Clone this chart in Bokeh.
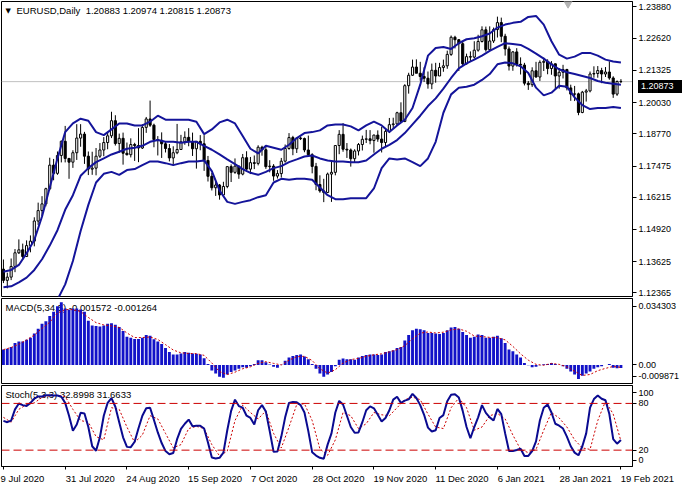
from bokeh.plotting import figure
from bokeh.models import (Range1d, FixedTicker, Span, Label, NumeralTickFormatter,
                          ColumnDataSource, AllLabels, Div)
from bokeh.layouts import column
from bokeh.embed import file_html
from bokeh.resources import INLINE

# ---------------- data ----------------
symbol_title = "EURUSD,Daily\u00a0 1.20883 1.20974 1.20815 1.20873"
macd_title = "MACD(5,34,5) -0.001572 -0.001264"
stoch_title = "Stoch(5,3,3) 32.8998 31.6633"

date_tick_bars = [0, 16, 32, 48, 64, 80, 96, 112, 128, 144, 160]
date_tick_labels = ["9 Jul 2020", "31 Jul 2020", "24 Aug 2020", "15 Sep 2020", "7 Oct 2020",
                    "28 Oct 2020", "19 Nov 2020", "11 Dec 2020", "6 Jan 2021", "28 Jan 2021",
                    "19 Feb 2021"]

opens = [1.1332, 1.1287, 1.1300, 1.1343, 1.1398, 1.1410, 1.1383, 1.1427, 1.1445, 1.1526,
         1.1568, 1.1595, 1.1656, 1.1751, 1.1718, 1.1790, 1.1847, 1.1778, 1.1763, 1.1801,
         1.1860, 1.1876, 1.1787, 1.1735, 1.1739, 1.1787, 1.1812, 1.1842, 1.1869, 1.1930,
         1.1838, 1.1859, 1.1799, 1.1793, 1.1834, 1.1830, 1.1820, 1.1903, 1.1937, 1.1912,
         1.1854, 1.1851, 1.1837, 1.1818, 1.1780, 1.1801, 1.1814, 1.1845, 1.1863, 1.1846,
         1.1817, 1.1847, 1.1837, 1.1770, 1.1706, 1.1660, 1.1671, 1.1631, 1.1665, 1.1745,
         1.1722, 1.1747, 1.1715, 1.1781, 1.1735, 1.1761, 1.1758, 1.1823, 1.1813, 1.1745,
         1.1747, 1.1707, 1.1717, 1.1767, 1.1818, 1.1862, 1.1817, 1.1860, 1.1858, 1.1812,
         1.1793, 1.1746, 1.1673, 1.1647, 1.1641, 1.1715, 1.1722, 1.1830, 1.1875, 1.1815,
         1.1812, 1.1777, 1.1808, 1.1834, 1.1855, 1.1857, 1.1850, 1.1872, 1.1856, 1.1842,
         1.1887, 1.1914, 1.1917, 1.1962, 1.1927, 1.2071, 1.2113, 1.2146, 1.2121, 1.2108,
         1.2101, 1.2078, 1.2133, 1.2110, 1.2144, 1.2151, 1.2197, 1.2266, 1.2256, 1.2240,
         1.2159, 1.2188, 1.2186, 1.2214, 1.2249, 1.2296, 1.2216, 1.2251, 1.2297, 1.2325,
         1.2270, 1.2219, 1.2150, 1.2207, 1.2157, 1.2154, 1.2081, 1.2075, 1.2131, 1.2106,
         1.2165, 1.2169, 1.2140, 1.2159, 1.2110, 1.2125, 1.2136, 1.2062, 1.2037, 1.2038,
         1.1963, 1.2045, 1.2050, 1.2118, 1.2120, 1.2132, 1.2118, 1.2126, 1.2102, 1.2037,
         1.20883]
highs = [1.1371, 1.1318, 1.1375, 1.1413, 1.1452, 1.1435, 1.1448, 1.1468, 1.1541, 1.1600,
         1.1626, 1.1660, 1.1781, 1.1776, 1.1806, 1.1850, 1.1909, 1.1780, 1.1811, 1.1916,
         1.1916, 1.1885, 1.1806, 1.1805, 1.1820, 1.1840, 1.1864, 1.1882, 1.1966, 1.1952,
         1.1878, 1.1882, 1.1842, 1.1859, 1.1841, 1.1900, 1.1916, 1.1945, 1.2011, 1.1918,
         1.1868, 1.1883, 1.1848, 1.1836, 1.1827, 1.1917, 1.1873, 1.1887, 1.1900, 1.1882,
         1.1828, 1.1872, 1.1872, 1.1788, 1.1720, 1.1687, 1.1675, 1.1684, 1.1746, 1.1754,
         1.1778, 1.1749, 1.1796, 1.1807, 1.1784, 1.1790, 1.1831, 1.1829, 1.1827, 1.1771,
         1.1755, 1.1731, 1.1780, 1.1834, 1.1880, 1.1869, 1.1860, 1.1866, 1.1862, 1.1870,
         1.1799, 1.1760, 1.1710, 1.1696, 1.1721, 1.1770, 1.1830, 1.1892, 1.1920, 1.1840,
         1.1818, 1.1815, 1.1840, 1.1870, 1.1893, 1.1892, 1.1874, 1.1891, 1.1905, 1.1897,
         1.1941, 1.1942, 1.1966, 1.2004, 1.2077, 1.2123, 1.2176, 1.2177, 1.2167, 1.2145,
         1.2128, 1.2160, 1.2163, 1.2163, 1.2176, 1.2212, 1.2273, 1.2272, 1.2259, 1.2250,
         1.2200, 1.2209, 1.2250, 1.2276, 1.2310, 1.2309, 1.2310, 1.2305, 1.2349, 1.2345,
         1.2280, 1.2229, 1.2210, 1.2222, 1.2185, 1.2163, 1.2090, 1.2145, 1.2167, 1.2173,
         1.2184, 1.2177, 1.2170, 1.2160, 1.2142, 1.2155, 1.2139, 1.2075, 1.2070, 1.2043,
         1.2050, 1.2058, 1.2128, 1.2149, 1.2150, 1.2143, 1.2146, 1.2169, 1.2109, 1.2092,
         1.20974]
lows = [1.1276, 1.1255, 1.1288, 1.1320, 1.1393, 1.1370, 1.1381, 1.1400, 1.1424, 1.1510,
        1.1544, 1.1585, 1.1650, 1.1690, 1.1712, 1.1762, 1.1762, 1.1696, 1.1740, 1.1772,
        1.1825, 1.1756, 1.1711, 1.1712, 1.1710, 1.1780, 1.1787, 1.1815, 1.1860, 1.1830,
        1.1801, 1.1753, 1.1790, 1.1782, 1.1768, 1.1763, 1.1816, 1.1881, 1.1905, 1.1823,
        1.1790, 1.1780, 1.1802, 1.1766, 1.1753, 1.1795, 1.1812, 1.1833, 1.1827, 1.1788,
        1.1737, 1.1811, 1.1728, 1.1685, 1.1649, 1.1627, 1.1612, 1.1626, 1.1658, 1.1683,
        1.1716, 1.1696, 1.1710, 1.1732, 1.1715, 1.1735, 1.1750, 1.1789, 1.1736, 1.1722,
        1.1688, 1.1697, 1.1701, 1.1761, 1.1813, 1.1791, 1.1800, 1.1852, 1.1803, 1.1790,
        1.1718, 1.1650, 1.1640, 1.1602, 1.1640, 1.1603, 1.1710, 1.1795, 1.1805, 1.1780,
        1.1745, 1.1760, 1.1790, 1.1810, 1.1840, 1.1835, 1.1801, 1.1845, 1.1802, 1.1825,
        1.1880, 1.1900, 1.1910, 1.1924, 1.1924, 1.2039, 1.2110, 1.2129, 1.2091, 1.2086,
        1.2059, 1.2057, 1.2083, 1.2110, 1.2127, 1.2139, 1.2191, 1.2221, 1.2130, 1.2153,
        1.2156, 1.2170, 1.2180, 1.2208, 1.2245, 1.2208, 1.2211, 1.2243, 1.2265, 1.2246,
        1.2192, 1.2132, 1.2131, 1.2148, 1.2116, 1.2072, 1.2054, 1.2066, 1.2103, 1.2090,
        1.2130, 1.2117, 1.2115, 1.2057, 1.2059, 1.2100, 1.2052, 1.2010, 1.2009, 1.1952,
        1.1960, 1.2007, 1.2044, 1.2103, 1.2103, 1.2081, 1.2106, 1.2095, 1.2022, 1.2030,
        1.20815]
closes = [1.1287, 1.1300, 1.1343, 1.1398, 1.1410, 1.1383, 1.1427, 1.1445, 1.1526, 1.1568,
          1.1595, 1.1656, 1.1751, 1.1718, 1.1790, 1.1847, 1.1778, 1.1763, 1.1801, 1.1860,
          1.1876, 1.1787, 1.1735, 1.1739, 1.1787, 1.1812, 1.1842, 1.1869, 1.1930, 1.1838,
          1.1859, 1.1799, 1.1793, 1.1834, 1.1830, 1.1820, 1.1903, 1.1937, 1.1912, 1.1854,
          1.1851, 1.1837, 1.1818, 1.1780, 1.1801, 1.1814, 1.1845, 1.1863, 1.1846, 1.1817,
          1.1847, 1.1837, 1.1770, 1.1706, 1.1660, 1.1671, 1.1631, 1.1665, 1.1745, 1.1722,
          1.1747, 1.1715, 1.1781, 1.1735, 1.1761, 1.1758, 1.1823, 1.1813, 1.1745, 1.1747,
          1.1707, 1.1717, 1.1767, 1.1818, 1.1862, 1.1817, 1.1860, 1.1858, 1.1812, 1.1793,
          1.1746, 1.1673, 1.1647, 1.1641, 1.1715, 1.1722, 1.1830, 1.1875, 1.1815, 1.1812,
          1.1777, 1.1808, 1.1834, 1.1855, 1.1857, 1.1850, 1.1872, 1.1856, 1.1842, 1.1887,
          1.1914, 1.1917, 1.1962, 1.1927, 1.2071, 1.2113, 1.2146, 1.2121, 1.2108, 1.2101,
          1.2078, 1.2133, 1.2110, 1.2144, 1.2151, 1.2197, 1.2266, 1.2256, 1.2240, 1.2159,
          1.2188, 1.2186, 1.2214, 1.2249, 1.2296, 1.2216, 1.2251, 1.2297, 1.2325, 1.2270,
          1.2219, 1.2150, 1.2207, 1.2157, 1.2154, 1.2081, 1.2075, 1.2131, 1.2106, 1.2165,
          1.2169, 1.2140, 1.2159, 1.2110, 1.2125, 1.2136, 1.2062, 1.2037, 1.2038, 1.1963,
          1.2045, 1.2050, 1.2118, 1.2120, 1.2132, 1.2118, 1.2126, 1.2102, 1.2037, 1.2088,
          1.20873]

# Bollinger bands, read every second bar
band_bars = list(range(0, 161, 2))
bb_upper = [1.1322, 1.1329, 1.1349, 1.1396, 1.1450, 1.1544, 1.1661, 1.1778, 1.1884, 1.1919,
            1.1938, 1.1930, 1.1884, 1.1872, 1.1895, 1.1919, 1.1919, 1.1911, 1.1911, 1.1926,
            1.1950, 1.1934, 1.1934, 1.1934, 1.1934, 1.1926, 1.1876, 1.1895, 1.1923, 1.1934,
            1.1919, 1.1868, 1.1817, 1.1798, 1.1829, 1.1821, 1.1813, 1.1833, 1.1860, 1.1880,
            1.1884, 1.1891, 1.1911, 1.1915, 1.1915, 1.1907, 1.1891, 1.1911, 1.1926, 1.1911,
            1.1884, 1.1911, 1.1934, 1.1981, 1.2075, 1.2192, 1.2223, 1.2227, 1.2219, 1.2242,
            1.2258, 1.2262, 1.2270, 1.2281, 1.2305, 1.2317, 1.2324, 1.2328, 1.2348, 1.2352,
            1.2317, 1.2250, 1.2196, 1.2180, 1.2188, 1.2203, 1.2203, 1.2192, 1.2176, 1.2168,
            1.2164]
bb_middle = [1.1259, 1.1263, 1.1279, 1.1298, 1.1329, 1.1372, 1.1427, 1.1489, 1.1571, 1.1630,
             1.1708, 1.1739, 1.1763, 1.1778, 1.1794, 1.1805, 1.1817, 1.1821, 1.1829, 1.1845,
             1.1852, 1.1845, 1.1845, 1.1841, 1.1845, 1.1845, 1.1829, 1.1813, 1.1794, 1.1774,
             1.1755, 1.1735, 1.1720, 1.1712, 1.1724, 1.1739, 1.1747, 1.1763, 1.1774, 1.1786,
             1.1790, 1.1778, 1.1770, 1.1766, 1.1766, 1.1763, 1.1763, 1.1770, 1.1794, 1.1817,
             1.1833, 1.1852, 1.1880, 1.1915, 1.1950, 1.1989, 1.2020, 1.2059, 1.2102, 1.2141,
             1.2161, 1.2176, 1.2192, 1.2211, 1.2227, 1.2242, 1.2239, 1.2235, 1.2219, 1.2200,
             1.2180, 1.2157, 1.2137, 1.2125, 1.2118, 1.2110, 1.2102, 1.2090, 1.2083, 1.2079,
             1.2075]
bb_lower = [1.1216, 1.1205, 1.1197, 1.1189, 1.1181, 1.1177, 1.1185, 1.1209, 1.1271, 1.1365,
            1.1486, 1.1591, 1.1681, 1.1716, 1.1724, 1.1712, 1.1731, 1.1735, 1.1751, 1.1766,
            1.1766, 1.1759, 1.1751, 1.1759, 1.1766, 1.1766, 1.1770, 1.1727, 1.1649, 1.1603,
            1.1595, 1.1603, 1.1610, 1.1622, 1.1630, 1.1681, 1.1696, 1.1692, 1.1696, 1.1696,
            1.1692, 1.1661, 1.1630, 1.1614, 1.1614, 1.1618, 1.1618, 1.1618, 1.1657, 1.1739,
            1.1778, 1.1774, 1.1778, 1.1763, 1.1747, 1.1778, 1.1845, 1.1962, 1.2036, 1.2063,
            1.2067, 1.2075, 1.2094, 1.2118, 1.2157, 1.2164, 1.2161, 1.2149, 1.2122, 1.2063,
            1.2032, 1.2043, 1.2071, 1.2067, 1.2024, 1.1993, 1.1977, 1.1981, 1.1981, 1.1985,
            1.1981]

macd_hist = [0.0080, 0.0084, 0.0094, 0.0114, 0.0122, 0.0122, 0.0131, 0.0142, 0.0164, 0.0189,
             0.0215, 0.0228, 0.0256, 0.0278, 0.0307, 0.0328, 0.0295, 0.0290, 0.0295, 0.0295,
             0.0290, 0.0278, 0.0231, 0.0206, 0.0203, 0.0201, 0.0206, 0.0215, 0.0218, 0.0210,
             0.0198, 0.0177, 0.0147, 0.0142, 0.0136, 0.0136, 0.0142, 0.0156, 0.0152, 0.0134,
             0.0122, 0.0109, 0.0089, 0.0067, 0.0055, 0.0055, 0.0060, 0.0067, 0.0064, 0.0060,
             0.0059, 0.0055, 0.0035, 0.0005, -0.0029, -0.0045, -0.0062, -0.0067, -0.0050, -0.0037,
             -0.0029, -0.0020, -0.0012, -0.0015, -0.0007, 0.0005, 0.0025, 0.0025, 0.0014, 0.0002,
             -0.0009, -0.0015, 0.0001, 0.0022, 0.0039, 0.0047, 0.0052, 0.0055, 0.0044, 0.0030,
             0.0005, -0.0020, -0.0045, -0.0062, -0.0050, -0.0037, -0.0007, 0.0027, 0.0034, 0.0030,
             0.0030, 0.0027, 0.0039, 0.0047, 0.0052, 0.0055, 0.0055, 0.0052, 0.0055, 0.0067,
             0.0072, 0.0077, 0.0089, 0.0094, 0.0127, 0.0156, 0.0181, 0.0189, 0.0186, 0.0181,
             0.0167, 0.0167, 0.0164, 0.0161, 0.0167, 0.0181, 0.0195, 0.0198, 0.0189, 0.0172,
             0.0156, 0.0142, 0.0147, 0.0159, 0.0156, 0.0142, 0.0142, 0.0147, 0.0152, 0.0139,
             0.0114, 0.0080, 0.0072, 0.0055, 0.0039, 0.0010, -0.0002, -0.0012, -0.0009, -0.0002,
             0.0004, 0.0005, 0.0010, 0.0005, -0.0001, -0.0007, -0.0020, -0.0034, -0.0050, -0.0074,
             -0.0057, -0.0045, -0.0034, -0.0020, -0.0012, -0.0007, -0.0001, 0.0005, -0.0015, -0.0017,
             -0.001572]
macd_signal = [0.0080, 0.0091, 0.0108, 0.0131, 0.0156, 0.0191, 0.0223, 0.0271, 0.0289, 0.0289,
               0.0279, 0.0248, 0.0221, 0.0209, 0.0204, 0.0196, 0.0167, 0.0143, 0.0143, 0.0146,
               0.0133, 0.0106, 0.0078, 0.0063, 0.0060, 0.0059, 0.0050, 0.0010, -0.0035, -0.0050,
               -0.0038, -0.0020, -0.0010, 0.0008, 0.0017, 0.0008, 0.0000, 0.0025, 0.0043, 0.0045,
               0.0023, -0.0020, -0.0043, -0.0025, 0.0010, 0.0028, 0.0034, 0.0045, 0.0053, 0.0058,
               0.0068, 0.0080, 0.0101, 0.0136, 0.0166, 0.0172, 0.0167, 0.0171, 0.0183, 0.0188,
               0.0176, 0.0151, 0.0148, 0.0144, 0.0142, 0.0131, 0.0097, 0.0058, 0.0025, 0.0003,
               -0.0002, 0.0008, 0.0003, -0.0010, -0.0033, -0.0055, -0.0050, -0.0030, -0.0018, -0.0008,
               -0.001264]

stoch_main = [57.6, 55.9, 58.0, 72.4, 79.9, 77.8, 76.6, 80.7, 86.0, 88.9,
              88.9, 90.6, 90.6, 90.2, 90.2, 88.5, 80.7, 64.2, 44.8, 53.0,
              67.9, 67.1, 49.7, 25.0, 19.2, 36.5, 64.2, 80.7, 86.9, 75.7,
              55.9, 36.5, 24.2, 23.8, 30.8, 48.1, 64.2, 73.7, 74.5, 58.8,
              42.7, 29.1, 18.8, 14.7, 16.3, 34.1, 47.3, 53.9, 59.2, 50.6,
              51.4, 51.4, 47.7, 29.9, 10.6, 9.3, 10.2, 16.8, 45.6, 70.4,
              84.8, 76.6, 74.5, 64.2, 61.3, 53.0, 71.2, 77.8, 69.5, 44.4,
              18.0, 18.4, 37.4, 62.1, 80.7, 81.9, 81.5, 77.8, 68.3, 44.4,
              17.2, 13.0, 10.2, 8.9, 27.1, 41.5, 68.3, 83.2, 78.6, 64.2,
              49.7, 42.3, 42.7, 55.9, 71.2, 76.2, 73.7, 65.4, 56.8, 61.3,
              71.2, 84.8, 88.5, 80.7, 83.6, 85.2, 92.2, 86.9, 77.8, 65.4,
              48.9, 44.0, 45.6, 61.3, 65.0, 82.8, 91.0, 91.8, 87.7, 70.4,
              49.7, 35.3, 49.7, 62.1, 77.8, 67.9, 62.1, 58.0, 72.9, 66.3,
              41.5, 18.8, 18.8, 20.1, 21.7, 12.6, 12.6, 18.8, 31.2, 58.0,
              74.5, 78.6, 68.3, 53.9, 51.4, 47.7, 37.4, 25.0, 16.8, 13.4,
              25.0, 41.5, 74.5, 85.6, 90.2, 86.0, 84.0, 66.3, 34.1, 28.3,
              32.8998]
stoch_signal = [62.1, 55.9, 72.4, 78.6, 80.7, 87.7, 89.8, 90.2, 88.9, 72.4,
                58.0, 55.9, 37.4, 33.2, 74.5, 72.4, 49.7, 29.9, 39.4, 64.2,
                60.1, 41.5, 22.9, 27.1, 47.7, 50.6, 47.7, 27.1, 12.6, 18.8,
                58.0, 77.8, 68.3, 60.1, 70.4, 41.5, 22.9, 49.7, 78.6, 79.5,
                58.0, 21.7, 13.4, 33.2, 68.3, 64.2, 47.7, 53.9, 68.3, 65.4,
                64.2, 74.5, 84.8, 88.1, 84.8, 66.3, 49.7, 47.7, 74.5, 86.9,
                74.5, 45.6, 49.7, 64.2, 67.1, 60.1, 39.4, 20.9, 16.8, 20.9,
                45.6, 68.3, 61.3, 49.7, 33.2, 22.9, 20.9, 58.0, 82.8, 66.3,
                31.6633]
stoch_levels = [20, 80]

price_ticks = [1.23880, 1.22620, 1.21325, 1.20030, 1.18770, 1.17475, 1.16215, 1.14920, 1.13625, 1.12365]
last_price = 1.20873
macd_ticks = {0.03065: "0.034303", 0.0: "0.00", -0.00603: "-0.009871"}
stoch_ticks = {93.9: "100", 80: "80", 20: "20", 7.3: "0"}

# ---------------- styling / layout ----------------
FONT = "Liberation Sans"
FS = "9px"
FRAME_W = 631
RB = 52
X0, X1 = -0.5, 163.0
PY0, PY1 = 1.1222, 1.2410
MAIN_H = 295
BLUE = "#14149a"
HIST = "#1212c8"
RED = "#cc0000"

xr = Range1d(X0, X1)


def panel(fh, y0, y1, with_dates=False):
    p = figure(frame_width=FRAME_W, frame_height=fh, x_range=xr, y_range=Range1d(y0, y1),
               output_backend="svg", toolbar_location=None,
               x_axis_location="below" if with_dates else None, y_axis_location="right",
               min_border_left=1, min_border_right=RB, min_border_top=1,
               min_border_bottom=0 if with_dates else 1)
    p.grid.visible = False
    p.outline_line_color = "black"
    p.outline_line_width = 1
    p.background_fill_color = "white"
    p.border_fill_color = "white"
    for ax in p.axis:
        ax.axis_line_color = "black"
        ax.major_tick_in = 0
        ax.minor_tick_out = 0
        ax.minor_tick_in = 0
        ax.major_label_text_font = FONT
        ax.major_label_text_color = "black"
    ax = p.yaxis[0]
    ax.major_tick_out = 4
    ax.major_label_standoff = 2
    ax.major_label_text_font_size = FS
    return p


# advance widths (em) of the label font, used to left-align date labels at their ticks
CW = {" ": 0.278, "J": 0.5, "u": 0.556, "l": 0.222, "A": 0.667, "g": 0.556, "S": 0.667,
      "e": 0.556, "p": 0.556, "O": 0.778, "c": 0.5, "t": 0.278, "N": 0.722, "o": 0.556,
      "v": 0.5, "D": 0.722, "F": 0.611, "b": 0.556, "a": 0.556, "n": 0.556}


def left_aligned(s, first=False):
    if first:
        return s  # pushed inside the canvas by the axis itself
    w = sum(CW.get(ch, 0.556) for ch in s)
    return "\u00a0" * int(round(w / 0.278)) + s


# main price panel
pm = panel(MAIN_H, PY0, PY1)
pm.yaxis[0].ticker = FixedTicker(ticks=price_ticks)
pm.yaxis[0].formatter = NumeralTickFormatter(format="0.00000")
pm.add_layout(Span(location=last_price, dimension="width", line_color="#c0c0c0",
                   line_width=1, level="underlay"))

bars = list(range(len(closes)))
src = ColumnDataSource(dict(
    x=bars, h=highs, l=lows,
    top=[max(o, c) for o, c in zip(opens, closes)],
    bot=[min(o, c) for o, c in zip(opens, closes)],
    fill=["white" if c >= o else "black" for o, c in zip(opens, closes)],
))
pm.segment(x0="x", y0="l", x1="x", y1="h", source=src, line_color="black", line_width=1)
pm.vbar(x="x", width=0.55, top="top", bottom="bot", source=src,
        fill_color="fill", line_color="black", line_width=1)
for band in (bb_upper, bb_middle, bb_lower):
    pm.line(band_bars, band, line_color=BLUE, line_width=2)

pm.add_layout(Label(x=X0, y=PY1, x_offset=4, y_offset=-5, text="\u25bc",
                    text_font="DejaVu Sans", text_font_size="7px", text_baseline="top",
                    text_color="black"))
pm.add_layout(Label(x=X0, y=PY1, x_offset=15, y_offset=-3, text=symbol_title,
                    text_font=FONT, text_font_size="9.5px", text_baseline="top",
                    text_color="black"))
pm.scatter([146.3], [1.2404], marker="inverted_triangle", size=9,
           fill_color="#b4b4b4", line_color="#b4b4b4")

# MACD panel
pmacd = panel(85, -0.0097, 0.0347)
pmacd.yaxis[0].ticker = FixedTicker(ticks=list(macd_ticks.keys()))
pmacd.yaxis[0].major_label_overrides = macd_ticks
pmacd.add_layout(Label(x=X0, y=0.0347, x_offset=4, y_offset=-3, text=macd_title,
                       text_font=FONT, text_font_size="9.5px", text_baseline="top",
                       text_color="black", level="underlay"))
pmacd.vbar(x=bars, top=macd_hist, bottom=0, width=0.75, fill_color=HIST, line_color=None)
pmacd.line(band_bars, macd_signal, line_color=RED, line_width=1, line_dash="2 2")

# Stochastic panel with the date axis
pst = panel(81, -1, 103, with_dates=True)
pst.yaxis[0].ticker = FixedTicker(ticks=list(stoch_ticks.keys()))
pst.yaxis[0].major_label_overrides = stoch_ticks
xa = pst.xaxis[0]
xa.ticker = FixedTicker(ticks=date_tick_bars)
xa.major_label_overrides = {b: left_aligned(t, k == 0)
                            for k, (b, t) in enumerate(zip(date_tick_bars, date_tick_labels))}
xa.major_label_policy = AllLabels()
xa.major_tick_out = 3
xa.major_label_standoff = 3
xa.major_label_text_font_size = "9.5px"
pst.add_layout(Label(x=X0, y=103, x_offset=4, y_offset=-3, text=stoch_title,
                     text_font=FONT, text_font_size="9.5px", text_baseline="top",
                     text_color="black", level="underlay"))
for lv in stoch_levels:
    pst.add_layout(Span(location=lv, dimension="width", line_color=RED,
                        line_width=1, line_dash="8 4"))
pst.line(band_bars, stoch_signal, line_color=RED, line_width=1, line_dash="2 2")
pst.line(bars, stoch_main, line_color="#0a0a90", line_width=2)

# current-price tag over the price axis
tag_top = 1 + (PY1 - last_price) / (PY1 - PY0) * MAIN_H - 6.5
tag = Div(text="1.20873", width=44, height=13,
          styles={"position": "absolute", "left": f"{1 + FRAME_W + 1}px", "top": f"{tag_top:.1f}px",
                  "background-color": "black", "color": "white", "font-family": FONT,
                  "font-size": "9px", "line-height": "13px", "padding-left": "3px",
                  "z-index": "10"})

layout = column(pm, pmacd, pst, tag, spacing=0)
open("out.html", "w").write(file_html(layout, INLINE))
